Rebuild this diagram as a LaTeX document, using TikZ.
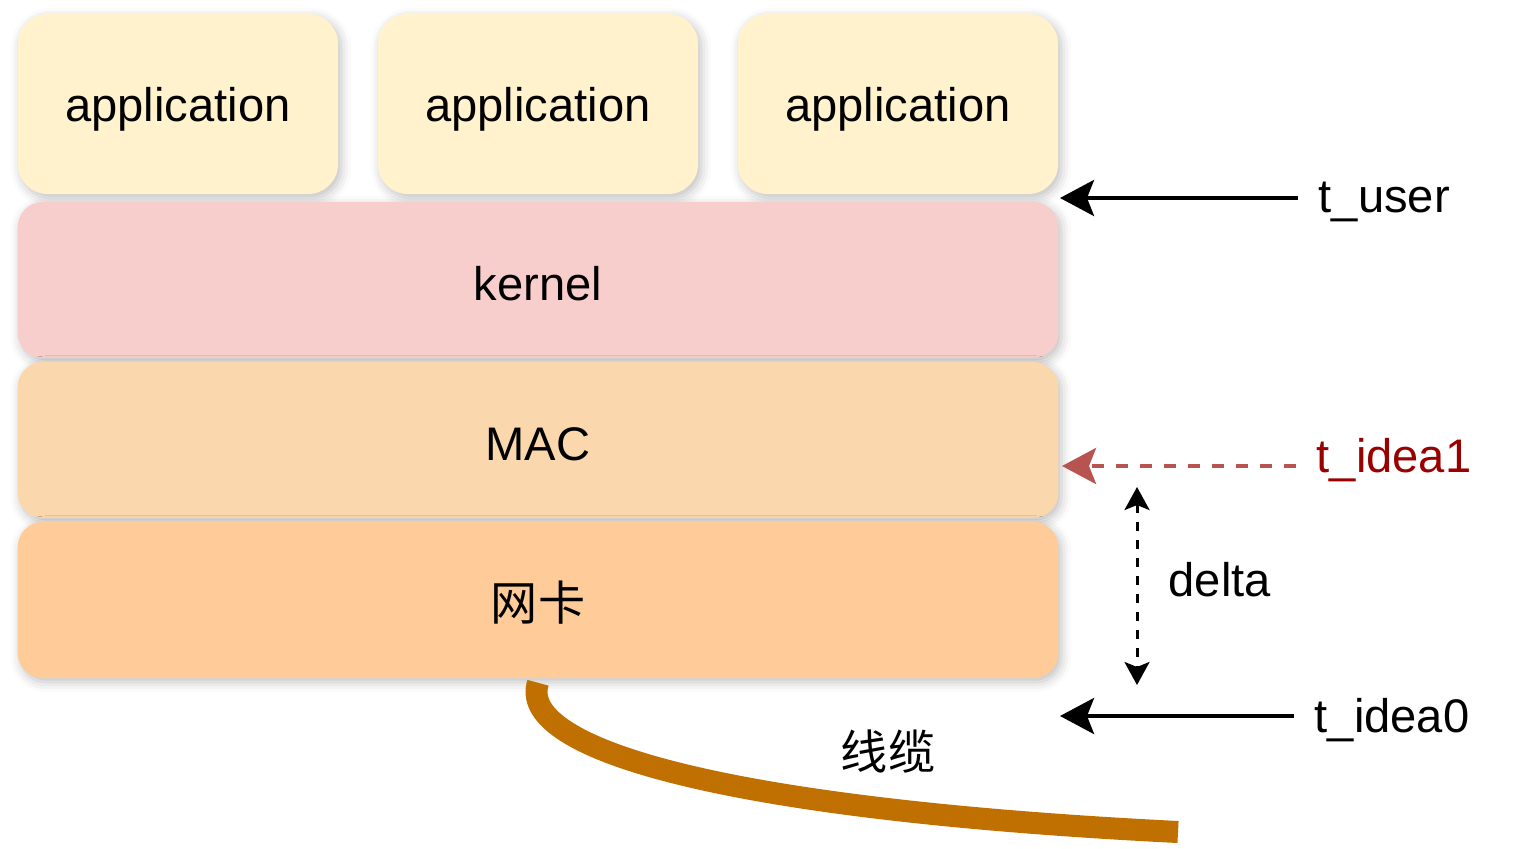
\documentclass[tikz,border=0pt]{standalone}
\usepackage{fontspec}
\setmainfont{Liberation Sans}
\newfontfamily\cjkfont{Noto Sans CJK SC}
\usetikzlibrary{arrows.meta,shadows.blur}

\definecolor{appfill}{HTML}{FFF2CC}
\definecolor{kernelfill}{HTML}{F8CECC}
\definecolor{macfill}{HTML}{FAD7AC}
\definecolor{nicfill}{HTML}{FFCC99}
\definecolor{cablecol}{HTML}{BF7000}
\definecolor{idealine}{HTML}{B85450}
\definecolor{ideatext}{HTML}{990000}

\begin{document}
\begin{tikzpicture}[x=0.01cm,y=-0.01cm,
    font=\fontsize{13.4}{16}\selectfont,
    layer/.style={rounded corners=0.25cm, inner sep=0pt,
      text height=12.4pt, text depth=1pt,
      minimum width=10.4cm, minimum height=1.56cm,
      blur shadow={shadow xshift=0.03cm, shadow yshift=-0.04cm,
        shadow blur radius=0.1cm, shadow opacity=25}},
    app/.style={layer, rounded corners=0.3cm, fill=appfill,
      text height=13pt, text depth=2.8pt, minimum width=3.2cm, minimum height=1.8cm},
    tip/.style={-{Stealth[length=0.34cm,width=0.36cm,inset=0.07cm]}, line width=0.04cm},
    tag/.style={anchor=base west, inner xsep=0.2cm, inner ysep=0pt},
    cable/.style={cablecol, line width=0.22cm}
  ]
  \useasboundingbox (0,0) rectangle (1516,848);

  \foreach \i/\x in {1/178,2/538,3/898}
    \node[app] (app\i) at (\x,104) {application};

  \node[layer, fill=kernelfill] (kernel) at (538,280) {kernel};
  \node[layer, fill=macfill] (mac) at (538,440) {MAC};
  \node[layer, fill=nicfill] (nic) at (538,600) {\cjkfont 网卡};

  % timestamps
  \coordinate (userin) at (1060,198);
  \coordinate (idea1in) at (1062,466);
  \coordinate (idea0in) at (1060,716);
  \node[tag] (tuser) at (1298,212) {t\_user};
  \node[tag, text=ideatext] (tidea1) at (1296,472) {t\_idea1};
  \node[tag] (tidea0) at (1294,732) {t\_idea0};

  \draw[tip] (tuser.west |- userin) -- (userin);
  \draw[tip, idealine, dash pattern=on 0.12cm off 0.12cm] (tidea1.west |- idea1in) -- (idea1in);
  \draw[tip] (tidea0.west |- idea0in) -- (idea0in);

  \coordinate (deltatop) at (1137,487);
  \coordinate (deltabot) at (1137,685);
  \draw[{Stealth[length=0.23cm,width=0.25cm,inset=0.05cm]}-{Stealth[length=0.23cm,width=0.25cm,inset=0.05cm]},
    line width=0.03cm, dash pattern=on 0.09cm off 0.09cm] (deltatop) -- (deltabot);
  \node[tag, inner xsep=0pt] (delta) at (1168,596) {delta};

  % cable
  \coordinate (cableend) at (1178,832);
  \draw[cable] ([yshift=-0.04cm]nic.south) .. controls (518,745) and (700,808) .. (cableend);
  \node (cablelabel) at (888,752) {\cjkfont 线缆};
\end{tikzpicture}
\end{document}
